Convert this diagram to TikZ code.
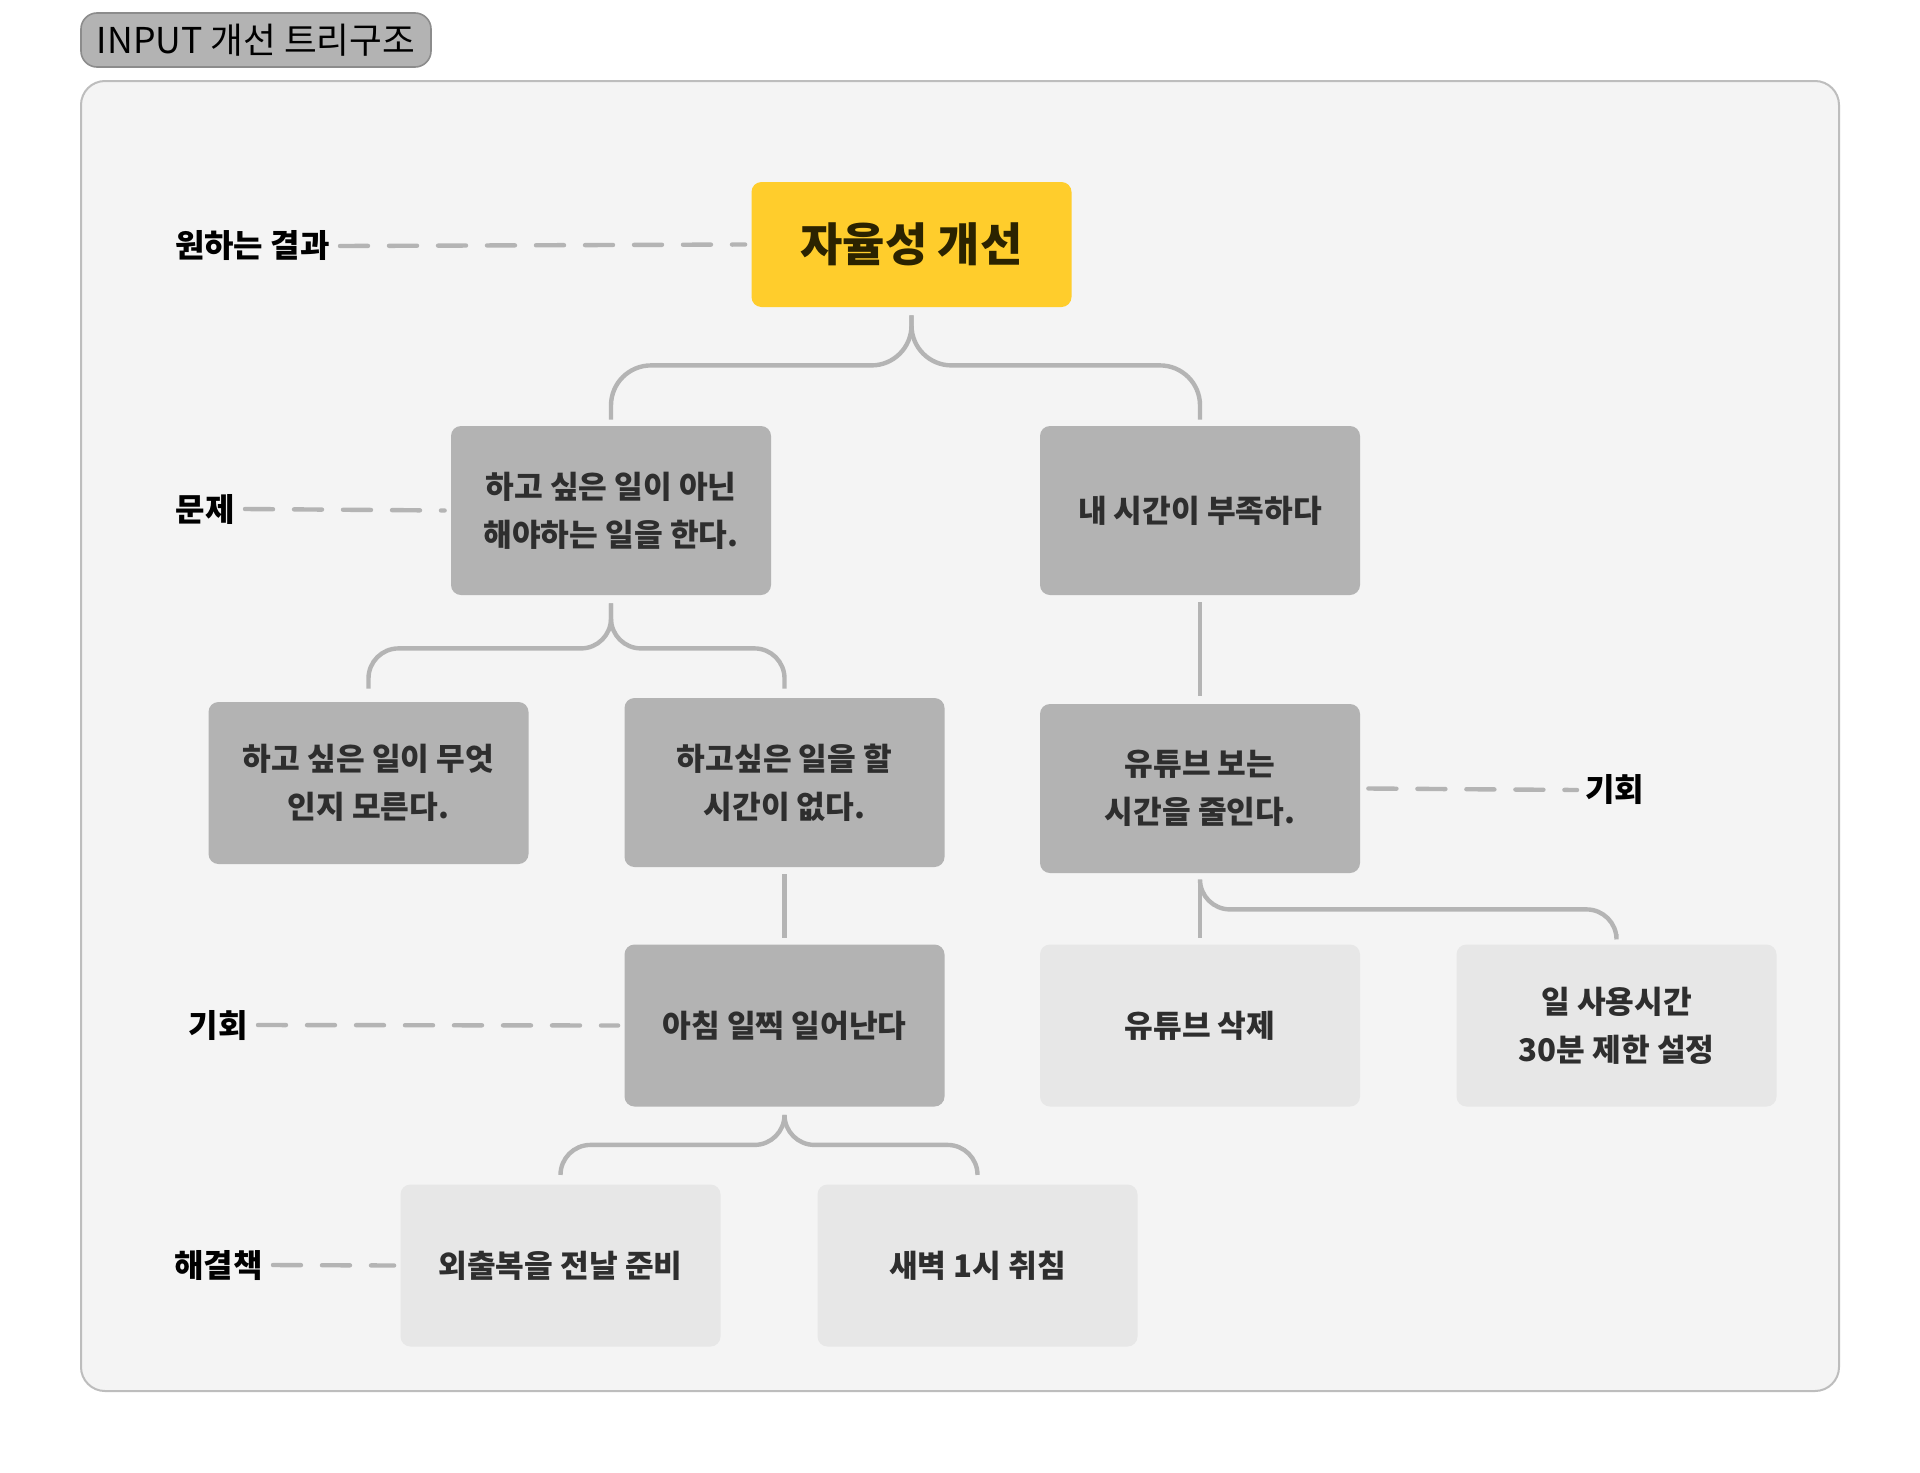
\documentclass[tikz,border=0pt]{standalone}
\usepackage{fontspec}
\setmainfont{Noto Sans CJK KR}
\usepackage{xcolor}
\usepackage{tikz}
\usetikzlibrary{positioning}

\definecolor{boxdark}{HTML}{B3B3B3}
\definecolor{boxlight}{HTML}{E7E7E7}
\definecolor{goalyellow}{HTML}{FFCD2C}
\definecolor{goalink}{HTML}{2B2300}
\definecolor{linegray}{HTML}{B4B4B4}
\definecolor{framebg}{HTML}{F4F4F4}
\definecolor{frameline}{HTML}{BDBDBD}
\definecolor{inkdark}{HTML}{2E2E2E}

\begin{document}
\begin{tikzpicture}[
    x=0.5pt, y=-0.5pt,
    card/.style={rounded corners=5pt, minimum width=160pt, minimum height=81pt, inner sep=0pt, align=center, font=\fontsize{15.6}{24}\selectfont\bfseries, text=inkdark},
    prob/.style={card, fill=boxdark},
    sol/.style={card, fill=boxlight},
    tall/.style={minimum height=84.5pt},
    tag/.style={inner sep=0pt, font=\fontsize{16}{18}\selectfont\bfseries, text=black},
    conn/.style={draw=linegray, line width=2.2pt, rounded corners=15pt},
    dashln/.style={draw=linegray, line width=2.2pt, line cap=round, dash pattern=on 14pt off 10.5pt}
]
\useasboundingbox (0,0) rectangle (1920,1472);
\fill[white] (0,0) rectangle (1920,1472);

% frame and title
\draw[fill=framebg, draw=frameline, line width=1pt, rounded corners=12pt] (81,81) rectangle (1839,1391);
\node[fill=boxdark, draw=black!45, line width=0.8pt, rounded corners=8pt, minimum width=175pt, minimum height=27pt, inner sep=0pt, font=\fontsize{17.8}{20}\selectfont] (title) at (256,40) {INPUT 개선 트리구조};

% tree
\node[card, fill=goalyellow, minimum height=62.5pt, text=goalink, font=\fontsize{23}{26}\selectfont\bfseries] (goal) at (911.5,244.5) {자율성 개선};

\node[prob, tall] (prob1) at (611,510.5) {하고 싶은 일이 아닌\\해야하는 일을 한다.};
\node[prob, tall] (prob2) at (1200,510.5) {내 시간이 부족하다};

\node[prob] (cause1) at (368.5,783) {하고 싶은 일이 무엇\\인지 모른다.};
\node[prob, tall] (cause2) at (784.5,782.5) {하고싶은 일을 할\\시간이 없다.};
\node[prob, tall] (youtube) at (1200,788.5) {유튜브 보는\\시간을 줄인다.};

\node[prob] (morning) at (784.5,1025.5) {아침 일찍 일어난다};
\node[sol] (ytdelete) at (1200,1025.5) {유튜브 삭제};
\node[sol] (ytlimit) at (1616.5,1025.5) {일 사용시간\\30분 제한 설정};

\node[sol] (clothes) at (560.5,1265.5) {외출복을 전날 준비};
\node[sol] (sleep) at (977.5,1265.5) {새벽 1시 취침};

% level labels
\node[tag, anchor=east] (lgoal) at (330,246) {원하는 결과};
\node[tag, anchor=east] (lprob) at (235,509) {문제};
\node[tag, anchor=west] (lopp2) at (1585,790) {기회};
\node[tag, anchor=east] (lopp1) at (248,1025) {기회};
\node[tag, anchor=east] (lsol) at (263,1265) {해결책};

\draw[dashln] ([xshift=5pt]lgoal.east) -- ([xshift=-3pt]goal.west);
\draw[dashln] ([xshift=5pt]lprob.east) -- ([xshift=-3pt]prob1.west);
\draw[dashln] ([xshift=4pt]youtube.east) -- ([xshift=-4pt]lopp2.west);
\draw[dashln] ([xshift=5pt]lopp1.east) -- ([xshift=-3pt]morning.west);
\draw[dashln] ([xshift=5pt]lsol.east) -- ([xshift=-3pt]clothes.west);

% connectors
\draw[conn, rounded corners=20pt] ([yshift=-4pt]goal.south) -- ++(0,50) -| ([yshift=3pt]prob1.north);
\draw[conn, rounded corners=20pt] ([yshift=-4pt]goal.south) -- ++(0,50) -| ([yshift=3pt]prob2.north);

\draw[conn] ([yshift=-4pt]prob1.south) -- ++(0,45) -| ([yshift=6.5pt]cause1.north);
\draw[conn] ([yshift=-4pt]prob1.south) -- ++(0,45) -| ([yshift=4.5pt]cause2.north);

\draw[conn] ([yshift=-3.5pt]prob2.south) -- ([yshift=4pt]youtube.north);
\draw[conn] ([yshift=-3.5pt]cause2.south) -- ([yshift=3pt]morning.north);

\draw[conn] ([yshift=-3.5pt]youtube.south) -- ([yshift=3pt]ytdelete.north);
\draw[conn] ([yshift=-3.5pt]youtube.south) -- ++(0,29) -| ([yshift=5pt]ytlimit.north);

\draw[conn] ([yshift=-5pt]morning.south) -- ++(0,28) -| ([yshift=5.5pt]clothes.north);
\draw[conn] ([yshift=-5pt]morning.south) -- ++(0,28) -| ([yshift=5.5pt]sleep.north);
\end{tikzpicture}
\end{document}
